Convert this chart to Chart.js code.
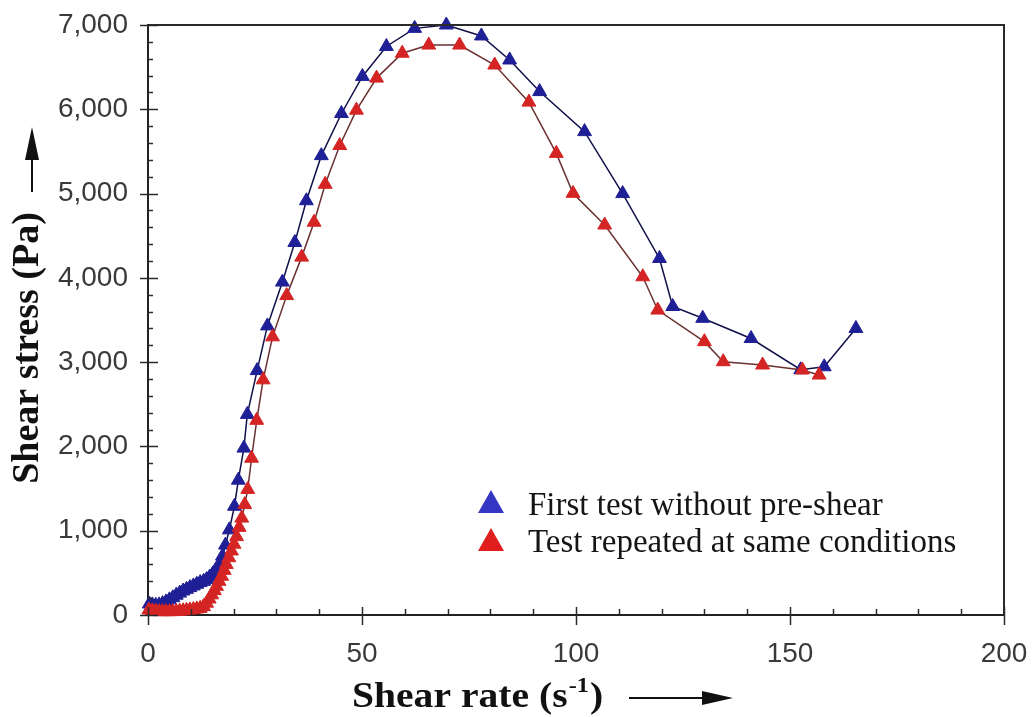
<!DOCTYPE html>
<html>
<head>
<meta charset="utf-8">
<title>Shear stress vs shear rate</title>
<script src="https://cdn.jsdelivr.net/npm/chart.js@4.4.0/dist/chart.umd.min.js"></script>
<style>
  html, body { margin: 0; padding: 0; background: #fff; }
  #wrap { width: 1033px; height: 717px; position: relative; }
</style>
</head>
<body>
<div id="wrap"><canvas id="shearChart"></canvas></div>
<script>
// data
const seriesNames = ['First test without pre-shear', 'Test repeated at same conditions'];

const blueRate = [0.3, 1.0, 1.8, 2.6, 3.4, 4.2, 5.0, 5.8, 6.6, 7.4, 8.2, 9.0, 9.8, 10.6, 11.4,
  12.2, 13.0, 13.7, 14.4, 15.1, 15.8, 16.6, 17.4, 18.1, 19.0, 20.2, 21.1, 22.4, 23.2, 25.5,
  27.9, 31.4, 34.3, 37.0, 40.5, 45.2, 50.1, 55.7, 62.3, 69.7, 77.9, 84.5, 91.5, 102.0, 110.9,
  119.5, 122.6, 129.6, 140.9, 152.5, 158.0, 165.4];
const blueStress = [130, 120, 115, 120, 135, 155, 180, 205, 235, 260, 285, 305, 325, 345, 365,
  385, 400, 420, 450, 485, 530, 600, 700, 830, 1010, 1290, 1600, 1980, 2380, 2900,
  3430, 3950, 4420, 4915, 5450, 5950, 6390, 6745, 6960, 7000, 6870, 6585, 6210, 5735, 5000,
  4230, 3660, 3520, 3280, 2910, 2945, 3400];

const redRate = [0.2, 1.0, 1.8, 2.6, 3.4, 4.2, 5.0, 5.8, 6.6, 7.4, 8.2, 9.0, 9.8, 10.6, 11.4,
  12.2, 13.0, 13.7, 14.3, 14.9, 15.5, 16.0, 16.6, 17.2, 17.8, 18.3, 18.9, 19.5, 20.1, 20.7,
  21.3, 21.9, 22.6, 23.3, 24.2, 25.4, 26.9, 29.1, 32.4, 35.9, 38.8, 41.4, 44.8, 48.7, 53.4,
  59.4, 65.6, 72.8, 81.0, 89.0, 95.4, 99.3, 106.7, 115.6, 119.1, 130.0, 134.4, 143.6, 152.9, 156.8];
const redStress = [60, 50, 45, 40, 40, 40, 40, 40, 42, 45, 50, 55, 60, 65, 72,
  80, 100, 140, 190, 240, 290, 340, 400, 460, 530, 600, 680, 760, 840, 930,
  1040, 1150, 1310, 1490, 1860, 2310, 2790, 3300, 3790, 4246, 4660, 5110, 5570, 5990, 6370,
  6665, 6762, 6762, 6525, 6085, 5477, 5003, 4627, 4013, 3618, 3243, 3005, 2966, 2907, 2847];

const xMin = 0, xMax = 200, xStep = 50, xMinorStep = 10;
const yMin = 0, yMax = 7000, yStep = 1000, yMinorStep = 200;

const xTitle = 'Shear rate (s';
const xTitleSup = '-1';
const yTitle = 'Shear stress (Pa)';

const blueMark = '#1f1f96';
const blueLine = '#10104a';
const redMark = '#d42424';
const redLine = '#6b3030';

function toPoints(xs, ys) {
    return xs.map((x, i) => ({ x: x, y: ys[i] }));
}

// Draw frame, tick marks, axis titles with arrows and the legend
const decorPlugin = {
    id: 'decor',
    afterDraw(chart) {
        const ctx = chart.ctx;
        const area = chart.chartArea;
        const xs = chart.scales.x;
        const ys = chart.scales.y;

        ctx.save();
        ctx.strokeStyle = '#2a2a2a';
        ctx.lineWidth = 2;
        // top and right frame lines
        ctx.beginPath();
        ctx.moveTo(area.left, area.top);
        ctx.lineTo(area.right, area.top);
        ctx.lineTo(area.right, area.bottom);
        ctx.stroke();

        // x ticks
        ctx.lineWidth = 1.5;
        for (let v = xMin; v <= xMax; v += xMinorStep) {
            const px = Math.round(xs.getPixelForValue(v)) + 0.5;
            ctx.beginPath();
            if (v % xStep === 0) {
                ctx.moveTo(px, area.bottom - 8);
                ctx.lineTo(px, area.bottom + 10);
            } else {
                ctx.moveTo(px, area.bottom - 6);
                ctx.lineTo(px, area.bottom);
            }
            ctx.stroke();
        }
        // y ticks
        for (let v = yMin; v <= yMax; v += yMinorStep) {
            const py = Math.round(ys.getPixelForValue(v)) + 0.5;
            ctx.beginPath();
            if (v % yStep === 0) {
                ctx.moveTo(area.left - 8, py);
                ctx.lineTo(area.left + 10, py);
            } else {
                ctx.moveTo(area.left, py);
                ctx.lineTo(area.left + 5, py);
            }
            ctx.stroke();
        }

        // x title
        ctx.fillStyle = '#111';
        ctx.textBaseline = 'alphabetic';
        ctx.textAlign = 'left';
        ctx.save();
        ctx.translate(352, 707);
        ctx.scale(1.1, 1);
        ctx.font = 'bold 36px "Liberation Serif", "Times New Roman", serif';
        ctx.fillText(xTitle, 0, 0);
        let w = ctx.measureText(xTitle).width;
        ctx.font = 'bold 22px "Liberation Serif", "Times New Roman", serif';
        ctx.fillText(xTitleSup, w + 1, -15);
        w += ctx.measureText(xTitleSup).width + 2;
        ctx.font = 'bold 36px "Liberation Serif", "Times New Roman", serif';
        ctx.fillText(')', w, 0);
        ctx.restore();

        // x arrow
        ctx.strokeStyle = '#111';
        ctx.lineWidth = 2;
        ctx.beginPath();
        ctx.moveTo(629, 698);
        ctx.lineTo(705, 698);
        ctx.stroke();
        ctx.beginPath();
        ctx.moveTo(733, 698);
        ctx.lineTo(702, 691);
        ctx.lineTo(702, 705);
        ctx.closePath();
        ctx.fill();

        // y title
        ctx.save();
        ctx.translate(38, 348);
        ctx.rotate(-Math.PI / 2);
        ctx.textAlign = 'center';
        ctx.font = 'bold 38px "Liberation Serif", "Times New Roman", serif';
        ctx.fillText(yTitle, 0, 0);
        ctx.restore();

        // y arrow
        ctx.beginPath();
        ctx.moveTo(32, 192);
        ctx.lineTo(32, 155);
        ctx.stroke();
        ctx.beginPath();
        ctx.moveTo(32, 127);
        ctx.lineTo(25, 160);
        ctx.lineTo(39, 160);
        ctx.closePath();
        ctx.fill();

        // legend
        const legendItems = [
            { name: seriesNames[0], color: '#3636c4', cy: 502, base: 515 },
            { name: seriesNames[1], color: '#e01e1e', cy: 540, base: 552 }
        ];
        ctx.font = '33px "Liberation Serif", "Times New Roman", serif';
        ctx.textAlign = 'left';
        legendItems.forEach(item => {
            ctx.fillStyle = item.color;
            ctx.beginPath();
            ctx.moveTo(491, item.cy - 12);
            ctx.lineTo(504, item.cy + 11);
            ctx.lineTo(478, item.cy + 11);
            ctx.closePath();
            ctx.fill();
            ctx.fillStyle = '#151515';
            ctx.fillText(item.name, 528, item.base);
        });
        ctx.restore();
    }
};

const ctx = document.getElementById('shearChart').getContext('2d');
const shearChart = new Chart(ctx, {
    type: 'line',
    data: {
        datasets: [{
            label: seriesNames[1],
            data: toPoints(redRate, redStress),
            borderColor: redLine,
            borderWidth: 1.5,
            pointStyle: 'triangle',
            pointRadius: 8,
            pointBackgroundColor: redMark,
            pointBorderColor: redMark,
            pointBorderWidth: 1,
            tension: 0,
            clip: false
        }, {
            label: seriesNames[0],
            data: toPoints(blueRate, blueStress),
            borderColor: blueLine,
            borderWidth: 1.5,
            pointStyle: 'triangle',
            pointRadius: 8,
            pointBackgroundColor: blueMark,
            pointBorderColor: blueMark,
            pointBorderWidth: 1,
            tension: 0,
            clip: false
        }]
    },
    options: {
        responsive: true,
        maintainAspectRatio: false,
        animation: false,
        devicePixelRatio: 1,
        layout: {
            padding: { left: 0, top: 25, right: 29, bottom: 0 }
        },
        plugins: {
            legend: { display: false },
            tooltip: { enabled: false }
        },
        scales: {
            x: {
                type: 'linear',
                min: xMin,
                max: xMax,
                ticks: {
                    stepSize: xStep,
                    maxRotation: 0,
                    padding: 22,
                    color: '#3a3a3a',
                    font: { family: '"Liberation Sans", Arial, sans-serif', size: 28 }
                },
                grid: { display: false, drawTicks: false },
                border: { display: true, color: '#222', width: 2 },
                afterFit(scale) {
                    scale.height = 102;
                    scale.paddingLeft = 0;
                    scale.paddingRight = 0;
                }
            },
            y: {
                type: 'linear',
                min: yMin,
                max: yMax,
                ticks: {
                    stepSize: yStep,
                    padding: 20,
                    color: '#3a3a3a',
                    font: { family: '"Liberation Sans", Arial, sans-serif', size: 28 },
                    callback: value => value.toLocaleString('en-US')
                },
                grid: { display: false, drawTicks: false },
                border: { display: true, color: '#222', width: 2 },
                afterFit(scale) {
                    scale.width = 148;
                    scale.paddingTop = 0;
                    scale.paddingBottom = 0;
                }
            }
        }
    },
    plugins: [decorPlugin]
});
</script>
</body>
</html>
